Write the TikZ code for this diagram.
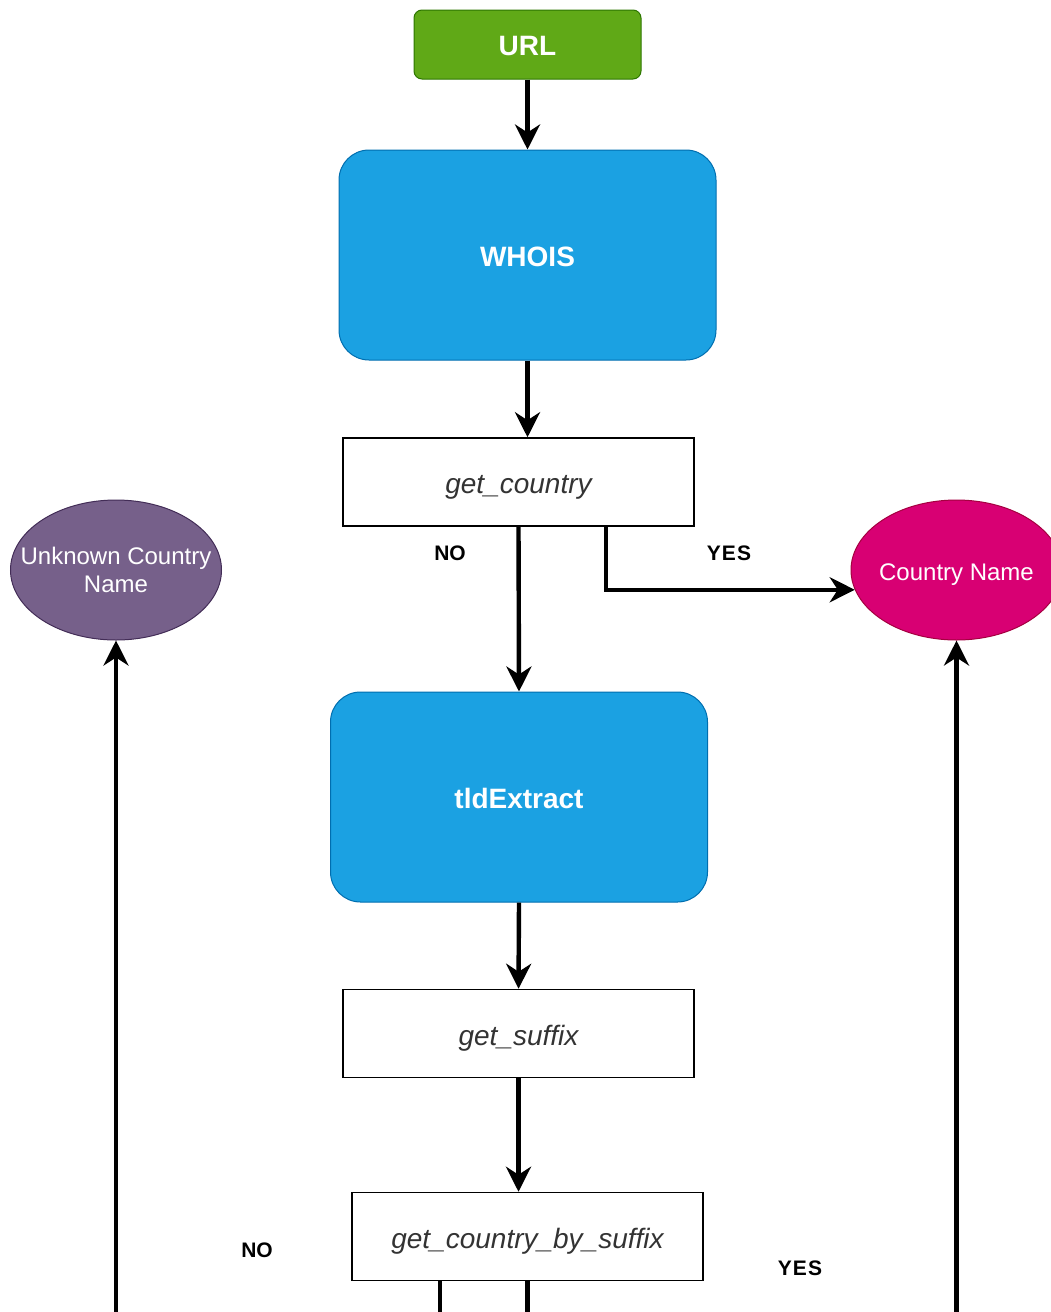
\documentclass[tikz,border=0pt]{standalone}
\usepackage{fontspec}
\setmainfont{Liberation Sans}
\usetikzlibrary{arrows.meta,shapes.geometric}
\definecolor{urlfill}{HTML}{60A917}
\definecolor{urlline}{HTML}{2D7600}
\definecolor{procfill}{HTML}{1BA1E2}
\definecolor{procline}{HTML}{006EAF}
\definecolor{unkfill}{HTML}{76608A}
\definecolor{unkline}{HTML}{432D57}
\definecolor{cnfill}{HTML}{D80073}
\definecolor{cnline}{HTML}{A50040}
\definecolor{functext}{HTML}{333333}
\tikzset{
  startbox/.style={rectangle, rounded corners=8pt, draw=urlline, line width=1pt, fill=urlfill,
    minimum width=227pt, minimum height=69pt, inner sep=0pt, text=white,
    text height=22pt, text depth=0pt,
    font=\fontsize{28}{32}\selectfont\bfseries},
  procbox/.style={rectangle, rounded corners=30pt, draw=procline, line width=1pt, fill=procfill,
    minimum width=377pt, minimum height=210pt, inner sep=0pt, text=white,
    text height=22pt, text depth=0pt,
    font=\fontsize{28}{32}\selectfont\bfseries},
  funcbox/.style={rectangle, draw=black, line width=1.5pt, fill=white,
    minimum width=351pt, minimum height=88pt, inner sep=0pt, text=functext,
    text height=23pt, text depth=0pt,
    font=\fontsize{28}{32}\selectfont\itshape},
  result/.style={ellipse, line width=1pt, minimum width=211pt, minimum height=140pt,
    inner sep=0pt},
  resulttext/.style={text=white, align=center, inner sep=0pt, font=\fontsize{24}{28}\selectfont},
  branch/.style={font=\fontsize{21}{24}\selectfont\bfseries, text=black},
  flow/.style={line width=4.4pt, -{Stealth[length=25pt, width=25pt, inset=8pt]}},
}
\begin{document}
\begin{tikzpicture}[x=1pt, y=-1pt]
\useasboundingbox (0,0) rectangle (1051,1312);
\clip (0,0) rectangle (1051,1312);

% process chain
\node[startbox] (url) at (527.5,44.5) {URL};
\node[procbox] (whois) at (527.5,255) {WHOIS};
\node[funcbox] (gc) at (518.5,482) {get\_country};
\node[procbox] (tld) at (519,797) {tldExtract};
\node[funcbox] (gs) at (518.5,1033.5) {get\_suffix};
\node[funcbox] (gcs) at (527.5,1236.5) {get\_country\_by\_suffix};

% outcomes
\node[result, draw=unkline, fill=unkfill,
  label={[resulttext]center:Unknown Country\\Name}] (unk) at (116,570) {};
\node[result, draw=cnline, fill=cnfill,
  label={[resulttext, text height=20pt, text depth=0pt]center:Country Name}] (cn) at (956.5,570) {};

% branch labels
\node[branch] (no1) at (450,553) {NO};
\node[branch] (yes1) at (729,553) {Y\kern1ptE\kern1ptS};
\node[branch] (no2) at (257,1250) {NO};
\node[branch] (yes2) at (800,1268) {Y\kern1ptE\kern1ptS};

% connectors
\draw[flow] (url) -- (whois);
\draw[flow] (whois.south) -- (whois.south |- gc.north);
\draw[flow] (gc.south) -- (tld.north);
\draw[flow] ([xshift=87.5pt]gc.south) |- (cn.191);
\draw[flow] (tld.south) -- (gs.north);
\draw[flow] (gs.south) -- (gs.south |- gcs.north);
\draw[flow] ([xshift=-87.5pt]gcs.south) -- ++(0,70) -| (unk.south);
\draw[flow] (gcs.south) -- ++(0,55) -| (cn.south);
\end{tikzpicture}
\end{document}
